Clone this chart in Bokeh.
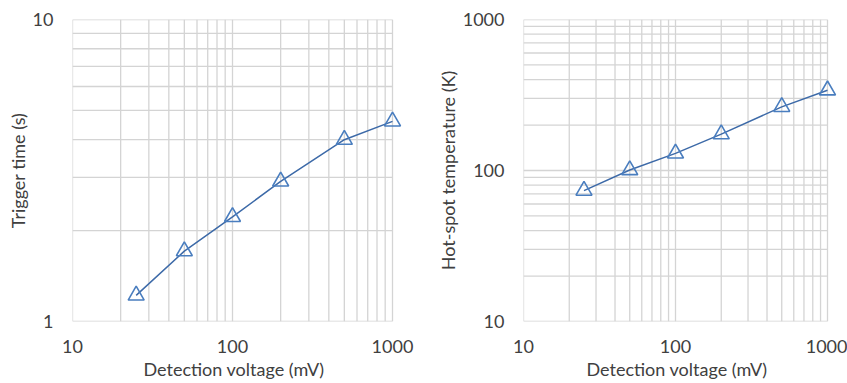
import numpy as np
from bokeh.plotting import figure
from bokeh.layouts import row
from bokeh.models import FixedTicker, NumeralTickFormatter, Range1d, Title
from bokeh.embed import file_html
from bokeh.resources import INLINE

# ---- data ----
voltage_mv = [25, 50, 100, 200, 500, 1000]
trigger_time_s = [1.22, 1.71, 2.22, 2.91, 4.00, 4.60]
hotspot_temp_k = [73.6, 100.7, 129.8, 174, 264, 340]

x_major = [10, 100, 1000]
x_minor = [20, 30, 40, 50, 60, 70, 80, 90, 200, 300, 400, 500, 600, 700, 800, 900]
y1_major = [1, 10]
y1_minor = [2, 3, 4, 5, 6, 7, 8, 9]
y2_major = [10, 100, 1000]
y2_minor = [20, 30, 40, 50, 60, 70, 80, 90, 200, 300, 400, 500, 600, 700, 800, 900]

x_title = "Detection voltage (mV)"
y1_title = "Trigger time (s)"
y2_title = "Hot-spot temperature (K)"

FONT = "Lato"
FS = "18px"
TXT = "#404040"
GRID = "#d4d4d4"
LINE = "#3d6aa8"
MARK = "#4a7ebf"
PAD = 12          # px of free room right of the decade box, so the last marker is not clipped
TITLE_HALF_W = 89  # approx. half width of the x title text, px


def make(width, height, left, right, top, bottom, yr, ymaj, ymin, ys, ytitle):
    x_lo, x_hi = min(x_major), max(x_major)
    y_lo, y_hi = min(ymaj), max(ymaj)
    box_w = width - left - right
    x_dec = np.log10(x_hi / x_lo)
    k = 10 ** (PAD * x_dec / box_w)
    p = figure(width=width, height=height, x_axis_type="log", y_axis_type="log",
               x_range=Range1d(x_lo, x_hi * k), y_range=Range1d(*yr),
               output_backend="svg", toolbar_location=None,
               min_border_left=left, min_border_right=right - PAD,
               min_border_top=top, min_border_bottom=bottom)
    p.outline_line_color = None
    p.grid.visible = False
    p.xaxis.ticker = FixedTicker(ticks=x_major, minor_ticks=x_minor)
    p.yaxis.ticker = FixedTicker(ticks=ymaj, minor_ticks=ymin)
    for ax in (p.xaxis[0], p.yaxis[0]):
        ax.formatter = NumeralTickFormatter(format="0")
        ax.axis_line_color = None
        ax.major_tick_line_color = None
        ax.minor_tick_line_color = None
        ax.major_tick_out = 0
        ax.minor_tick_out = 0
        ax.major_label_text_font = FONT
        ax.major_label_text_font_size = FS
        ax.major_label_text_color = TXT
        ax.axis_label_text_font = FONT
        ax.axis_label_text_font_size = FS
        ax.axis_label_text_font_style = "normal"
        ax.axis_label_text_color = TXT
    p.xaxis.major_label_standoff = 18
    p.yaxis.major_label_standoff = 19
    p.yaxis.axis_label_standoff = 1
    p.yaxis.axis_label = ytitle

    # x title centred under the decade box (not under the padded frame)
    p.add_layout(Title(text=x_title, align="left", offset=box_w / 2 - TITLE_HALF_W,
                       standoff=0, text_font=FONT, text_font_size=FS,
                       text_font_style="normal", text_color=TXT), "below")

    # grid lines limited to the decade box (drawn from the tick lists)
    xs_all = x_major + x_minor
    ys_all = ymaj + ymin
    p.segment(x0=xs_all, x1=xs_all, y0=[y_lo] * len(xs_all), y1=[y_hi] * len(xs_all),
              line_color=GRID, line_width=1.3)
    p.segment(x0=[x_lo] * len(ys_all), x1=[x_hi] * len(ys_all), y0=ys_all, y1=ys_all,
              line_color=GRID, line_width=1.3)

    p.line(voltage_mv, ys, line_color=LINE, line_width=1.5)
    p.scatter(voltage_mv, ys, marker="triangle", size=16, fill_color=None,
              line_color=MARK, line_width=1.6)
    return p


p1 = make(430, 383, 72, 38, 18, 62, (1, 10), y1_major, y1_minor,
          trigger_time_s, y1_title)
p2 = make(417, 383, 93, 20, 19, 61, (10, 1000), y2_major, y2_minor,
          hotspot_temp_k, y2_title)

layout = row(p1, p2)
open("out.html", "w").write(file_html(layout, INLINE))
